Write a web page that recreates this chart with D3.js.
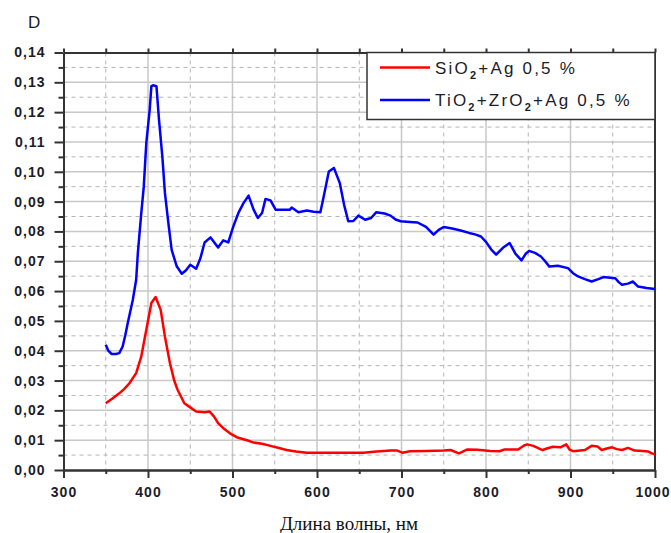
<!DOCTYPE html>
<head>
    <meta charset="utf-8">
    <title>D - Длина волны</title>
    <script src="https://d3js.org/d3.v7.min.js"></script>
    <style>
        body { margin: 0; background: #fff; }
        .tick text { font-family: "Liberation Sans", Arial, sans-serif; font-size: 14px; font-weight: bold; fill: #1c1c2a; letter-spacing: 1px; }
        .grid line { stroke: #c8c8c8; }
    </style>
</head>
<body>
    <svg width="671" height="533"></svg>
</body>

<script>
    // wavelength, nm -> D for SiO2+Ag 0,5 %
    var redWl = [350, 358, 366, 372, 378, 386, 392, 398, 404, 409, 415, 420, 426, 431, 435, 443, 450, 457, 467, 473,
        478, 483, 490, 497, 505, 513, 519, 525, 535, 545, 555, 564, 575, 588, 600, 620, 640, 655, 667, 687,
        695, 701, 710, 730, 750, 758, 768, 778, 790, 805, 816, 822, 830, 838, 845, 849, 856, 867, 872, 879,
        888, 895, 899, 903, 917, 925, 932, 937, 943, 949, 955, 961, 968, 976, 985, 992, 997, 1000];
    var redD = [0.0224, 0.024, 0.0257, 0.0272, 0.0291, 0.0325, 0.038, 0.047, 0.056, 0.058, 0.0537, 0.0448, 0.0358, 0.030, 0.0269, 0.0224, 0.021, 0.0196, 0.0194, 0.0196,
        0.018, 0.0157, 0.0138, 0.0123, 0.011, 0.0103, 0.0098, 0.0092, 0.0088, 0.0081, 0.0074, 0.0067, 0.0062, 0.0058, 0.0058, 0.0058, 0.0058, 0.0058, 0.0061, 0.0065,
        0.0065, 0.0058, 0.0063, 0.0064, 0.0065, 0.0067, 0.0056, 0.0069, 0.0068, 0.0064, 0.0063, 0.0069, 0.0069, 0.0069, 0.0082, 0.0086, 0.0081, 0.0067, 0.0072, 0.0078,
        0.0076, 0.0086, 0.0068, 0.0063, 0.0067, 0.0081, 0.0079, 0.0067, 0.0072, 0.0076, 0.007, 0.0067, 0.0074, 0.0065, 0.0064, 0.0062, 0.0055, 0.0053];

    // wavelength, nm -> D for TiO2+ZrO2+Ag 0,5 %
    var blueWl = [350, 353, 357, 362, 366, 370, 373, 376, 382, 386, 388, 392, 395, 398, 402, 404, 406, 410, 413, 417,
        420, 424, 428, 434, 440, 445, 450, 457, 462, 467, 474, 483, 489, 495, 501, 507, 513, 519, 525, 530,
        535, 539, 545, 551, 560, 568, 570, 578, 588, 596, 604, 608, 614, 620, 627, 632, 637, 643, 649, 657,
        664, 670, 680, 687, 693, 699, 710, 719, 729, 738, 744, 750, 760, 770, 780, 787, 794, 800, 806, 812,
        820, 828, 835, 842, 847, 851, 858, 865, 870, 875, 885, 897, 903, 909, 917, 925, 933, 939, 947, 953,
        957, 961, 968, 974, 980, 990, 1000];
    var blueD = [0.042, 0.040, 0.0389, 0.0389, 0.0392, 0.0414, 0.045, 0.0492, 0.057, 0.0638, 0.0728, 0.086, 0.095, 0.1097, 0.1208, 0.1287, 0.129, 0.1287, 0.1175, 0.105,
        0.093, 0.083, 0.0738, 0.0683, 0.0658, 0.067, 0.0688, 0.0675, 0.071, 0.0763, 0.078, 0.0746, 0.077, 0.0763, 0.0817, 0.0862, 0.0895, 0.092, 0.0873, 0.0845,
        0.0862, 0.0909, 0.0904, 0.0873, 0.0873, 0.0873, 0.088, 0.0864, 0.087, 0.0866, 0.0864, 0.0918, 0.1001, 0.1013, 0.0962, 0.089, 0.0834, 0.0835, 0.0853, 0.0839,
        0.0845, 0.0864, 0.086, 0.0853, 0.084, 0.0834, 0.0832, 0.083, 0.0815, 0.0789, 0.0805, 0.0815, 0.081, 0.0803, 0.0795, 0.079, 0.0783, 0.0765, 0.074, 0.0722,
        0.0745, 0.0761, 0.0725, 0.0703, 0.0725, 0.0735, 0.0728, 0.0716, 0.070, 0.0682, 0.0685, 0.0677, 0.066, 0.0649, 0.064, 0.0632, 0.064, 0.0647, 0.0645, 0.0643,
        0.063, 0.0621, 0.0625, 0.0632, 0.0615, 0.061, 0.0607];

    var xTicks = [300, 400, 500, 600, 700, 800, 900, 1000];
    var yTicks = [0, 0.01, 0.02, 0.03, 0.04, 0.05, 0.06, 0.07, 0.08, 0.09, 0.10, 0.11, 0.12, 0.13, 0.14];
    var legendNames = [["SiO", "+Ag 0,5 %"], ["TiO", "+ZrO", "+Ag 0,5 %"]];

    var svg = d3.select("svg"),
        pLeft = 63.5, pRight = 655, pTop = 52.5, pBottom = 470;

    var x = d3.scaleLinear().domain([300, 1000]).range([pLeft, pRight]);
    var y = d3.scaleLinear().domain([0, 0.14]).range([pBottom, pTop]);

    var minorX = d3.range(350, 1000, 100);
    var minorY = d3.range(0.005, 0.14, 0.01);
    var fmt = function (d) { return d3.format(".2f")(d).replace(".", ","); };

    // grid: solid on major, dashed on minor
    var grid = svg.append("g").attr("class", "grid");
    grid.selectAll(".vmaj").data(xTicks.slice(1, -1)).enter().append("line")
        .attr("x1", x).attr("x2", x).attr("y1", pTop).attr("y2", pBottom).attr("stroke-width", 1.5);
    grid.selectAll(".hmaj").data(yTicks.slice(1, -1)).enter().append("line")
        .attr("x1", pLeft).attr("x2", pRight).attr("y1", y).attr("y2", y).attr("stroke-width", 1.5);
    grid.selectAll(".vmin").data(minorX).enter().append("line")
        .attr("x1", x).attr("x2", x).attr("y1", pTop).attr("y2", pBottom)
        .attr("stroke-dasharray", "4,4").style("stroke", "#b4b4b4");
    grid.selectAll(".hmin").data(minorY).enter().append("line")
        .attr("x1", pLeft).attr("x2", pRight).attr("y1", y).attr("y2", y)
        .attr("stroke-dasharray", "4,4").style("stroke", "#b4b4b4");

    // axes
    var xAxis = svg.append("g").attr("transform", "translate(0," + pBottom + ")")
        .call(d3.axisBottom(x).tickValues(xTicks).tickFormat(d3.format("d")).tickSize(8).tickPadding(9).tickSizeOuter(0));
    // last label sits on the window edge, nudge it in
    xAxis.selectAll(".tick text").filter(function (d) { return d === 1000; }).attr("dx", -2.5);
    svg.append("g").attr("transform", "translate(0," + pBottom + ")")
        .call(d3.axisBottom(x).tickValues(minorX).tickSize(4).tickFormat("").tickSizeOuter(0));
    svg.append("g").attr("transform", "translate(" + pLeft + ",0)")
        .call(d3.axisLeft(y).tickValues(yTicks).tickFormat(fmt).tickSize(9).tickPadding(9).tickSizeOuter(0));
    svg.append("g").attr("transform", "translate(" + pLeft + ",0)")
        .call(d3.axisLeft(y).tickValues(minorY).tickSize(5).tickFormat("").tickSizeOuter(0));
    svg.append("g").attr("transform", "translate(0," + pTop + ")")
        .call(d3.axisTop(x).tickValues(xTicks.concat(minorX)).tickSize(4).tickFormat("").tickSizeOuter(0));

    svg.selectAll(".domain").attr("stroke", "#333").attr("stroke-width", 2);
    svg.selectAll(".tick line").attr("stroke", "#333").attr("stroke-width", 2);

    // right frame
    svg.append("line").attr("x1", pRight).attr("x2", pRight).attr("y1", pTop).attr("y2", pBottom)
        .attr("stroke", "#333").attr("stroke-width", 2);

    // curves
    var line = d3.line()
        .x(function (d) { return x(d[0]); })
        .y(function (d) { return y(d[1]); });

    svg.append("path").datum(d3.zip(redWl, redD))
        .attr("fill", "none").attr("stroke", "#ff0000").attr("stroke-width", 2.5)
        .attr("stroke-linejoin", "round").attr("d", line);
    svg.append("path").datum(d3.zip(blueWl, blueD))
        .attr("fill", "none").attr("stroke", "#0000ff").attr("stroke-width", 2.5)
        .attr("stroke-linejoin", "round").attr("d", line);

    // axis titles
    svg.append("text").attr("x", 28).attr("y", 28)
        .style("font-family", "Liberation Sans, Arial, sans-serif").style("font-size", "17px")
        .style("fill", "#1c1c2a").text("D");
    svg.append("text").attr("x", 349).attr("y", 530).attr("text-anchor", "middle")
        .style("font-family", "Liberation Serif, Times New Roman, serif").style("font-size", "19px")
        .style("fill", "#111").text("Длина волны, нм");

    // legend
    var lg = svg.append("g");
    lg.append("rect").attr("x", 367).attr("y", pTop).attr("width", pRight - 367).attr("height", 67)
        .attr("fill", "#fff").attr("stroke", "#333").attr("stroke-width", 1.5);
    var colors = ["#ff0000", "#0000ff"];
    legendNames.forEach(function (parts, i) {
        var ly = 67.5 + i * 32.5;
        lg.append("line").attr("x1", 380).attr("x2", 430).attr("y1", ly).attr("y2", ly)
            .attr("stroke", colors[i]).attr("stroke-width", 2.5);
        var t = lg.append("text").attr("x", 435).attr("y", ly + 6)
            .style("font-family", "Liberation Sans, Arial, sans-serif").style("font-size", "17px")
            .style("letter-spacing", "2.2px").style("fill", "#1c1c2a");
        parts.forEach(function (p, j) {
            t.append("tspan").attr("dy", j === 0 ? 0 : -5).style("font-size", "17px").text(p);
            if (j < parts.length - 1) {
                t.append("tspan").attr("dy", 5).style("font-size", "11px").style("font-weight", "bold").text("2");
            }
        });
    });
</script>
